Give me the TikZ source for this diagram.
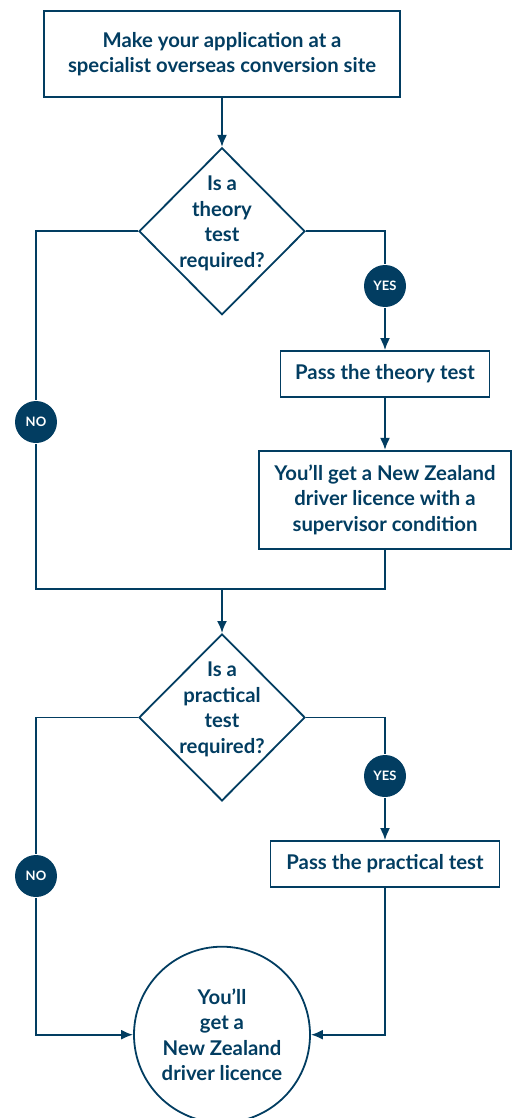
\documentclass[tikz,border=0pt]{standalone}
\usepackage{fontspec}
\setmainfont{Lato}
\usetikzlibrary{positioning}
\usetikzlibrary{shapes.geometric}
\usetikzlibrary{arrows.meta}
\definecolor{nzblue}{HTML}{023D61}

\begin{document}
\begin{tikzpicture}[
  x=1pt, y=1pt,
  color=nzblue, line width=1.8pt,
  bigfont/.style={font=\bfseries\fontsize{20.3}{25.5}\selectfont},
  stepbox/.style={draw,rectangle,align=center,inner sep=0pt,bigfont},
  question/.style={draw,diamond,minimum width=166pt,minimum height=167pt,inner sep=0pt},
  qtext/.style={align=center,inner sep=0pt,bigfont},
  answer/.style={fill=nzblue,circle,minimum size=42pt,inner sep=0pt,text=white,font=\bfseries\fontsize{13}{15}\selectfont},
  goal/.style={draw,circle,minimum size=176pt,inner sep=0pt,align=center,bigfont},
  arr/.style={-{Latex[length=12pt,width=10pt]}}
]
\useasboundingbox (0,0) rectangle (514,-1118);

\node[stepbox, minimum width=356pt, minimum height=86pt] (apply) at (222,-54)
  {Make your application at a\\specialist overseas conversion site};
\node[question, below=49pt of apply,
  label={[qtext,yshift=8pt]center:Is a\\theory\\test\\required?}] (q1) {};

\node[answer] (yes1) at (385,-286) {YES};
\node[answer] (no1) at (36,-422) {NO};

\node[stepbox, minimum width=209pt, minimum height=46pt] (theory) at (385,-374)
  {Pass the theory test};
\node[stepbox, minimum width=252pt, minimum height=98pt, below=52pt of theory] (sup)
  {You'll get a New Zealand\\driver licence with a\\supervisor condition};

\coordinate (join) at (222,-589);

\node[question, below=44pt of join,
  label={[qtext,yshift=8pt]center:Is a\\practical\\test\\required?}] (q2) {};

\node[answer] (yes2) at (385,-776) {YES};
\node[answer] (no2) at (36,-876) {NO};

\node[stepbox, minimum width=229pt, minimum height=46pt] (practical) at (385,-864)
  {Pass the practical test};
\node[goal, below=144pt of q2] (final)
  {You'll\\get a\\New Zealand\\driver licence};

% theory test
\draw[arr] (apply) -- (q1);
\draw (q1.east) -| (yes1.north);
\draw[arr] (yes1.south) -- (theory.north);
\draw[arr] (theory) -- (sup);
\draw (q1.west) -| (no1.north);
\draw (no1.south) |- (join);
\draw (sup.south) |- (join);
\draw[arr] (join) -- (q2.north);

% practical test
\draw (q2.east) -| (yes2.north);
\draw[arr] (yes2.south) -- (practical.north);
\draw[arr] (practical.south) |- (final.east);
\draw (q2.west) -| (no2.north);
\draw[arr] (no2.south) |- (final.west);

\end{tikzpicture}
\end{document}
